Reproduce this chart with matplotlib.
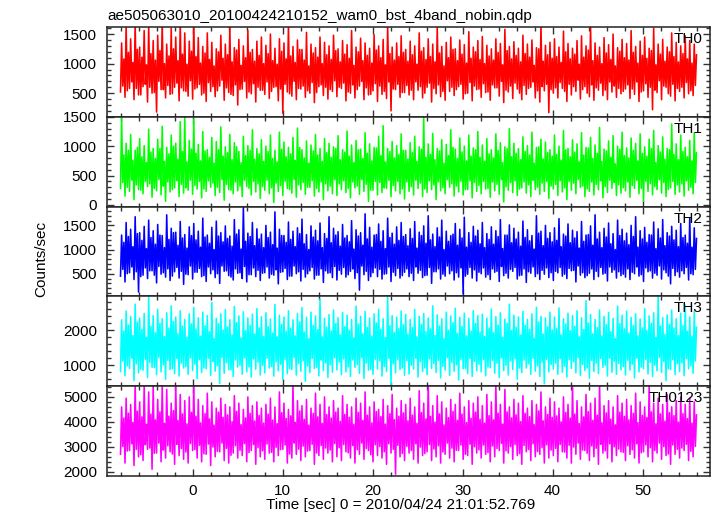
import numpy as np
import matplotlib
matplotlib.use("Agg")
import matplotlib.pyplot as plt
from matplotlib.ticker import MultipleLocator

plt.rcParams['font.family'] = ['Liberation Sans', 'DejaVu Sans']

title = "ae505063010_20100424210152_wam0_bst_4band_nobin.qdp"
xlabel = "Time [sec] 0 = 2010/04/24 21:01:52.769"
ylabel = "Counts/sec"
names = ["TH0", "TH1", "TH2", "TH3", "TH0123"]
colors = ["#ff0000", "#00ff00", "#0000ff", "#00ffff", "#ff00ff"]
t_start, t_end = -8.0, 56.0

# Light curves (counts/sec), four samples per 0.5 s: lo, hi, mid_lo, mid_hi
th0_hi = [1350, 1650, 1420, 1700, 1280, 1560, 1650, 1390, 1480, 1700, 1330, 1600, 1450, 1700, 1520, 1380,
          1700, 1440, 1290, 1520, 1360, 1250, 1480, 1330, 1620, 1270, 1410, 1300, 1560, 1240, 1380, 1450,
          1310, 1500, 1260, 1420, 1350, 1660, 1290, 1400, 1240, 1530, 1330, 1270, 1450, 1360, 1300, 1480,
          1250, 1390, 1320, 1560, 1280, 1430, 1350, 1260, 1490, 1300, 1410, 1640, 1280, 1350, 1470, 1240,
          1380, 1300, 1520, 1270, 1420, 1330, 1610, 1290, 1360, 1450, 1250, 1400, 1320, 1540, 1280, 1390,
          1460, 1310, 1250, 1420, 1340, 1580, 1290, 1370, 1260, 1480, 1330, 1400, 1270, 1650, 1310, 1360,
          1420, 1280, 1550, 1340, 1260, 1390, 1470, 1300, 1630, 1350, 1280, 1440, 1320, 1500, 1270, 1410,
          1340, 1560, 1290, 1380, 1450, 1260, 1600, 1330, 1410, 1280, 1520, 1360, 1300, 1470, 1390, 1330]
th0_lo = [520, 430, 580, 390, 470, 610, 350, 500, 180, 560, 420, 480, 600, 370, 540, 450,
          400, 590, 470, 360, 530, 440, 620, 380, 510, 460, 300, 570, 420, 490, 350, 550,
          480, 410, 600, 370, 160, 520, 450, 390, 570, 430, 500, 340, 610, 460, 400, 530,
          440, 580, 370, 500, 420, 620, 390, 470, 540, 360, 480, 410, 200, 560, 430, 510,
          470, 390, 550, 420, 600, 350, 490, 440, 380, 530, 460, 610, 400, 500, 370, 560,
          430, 510, 380, 590, 450, 340, 520, 410, 570, 390, 480, 600, 420, 350, 540, 170,
          500, 420, 580, 360, 470, 530, 400, 610, 440, 380, 550, 460, 390, 520, 430, 490,
          570, 410, 480, 360, 540, 430, 220, 510, 390, 600, 450, 370, 530, 420, 490, 460]
th0_mid_hi = [1080, 1190, 1020, 1240, 1110, 980, 1170, 1060, 1220, 1000, 1130, 1250, 1050, 1160, 990, 1210,
              1120, 1010, 1180, 1070, 960, 1200, 1090, 1150, 1030, 1230, 970, 1100, 1190, 1040, 1140, 1000,
              1170, 1050, 990, 1210, 1080, 1130, 1020, 1240, 1060, 960, 1180, 1110, 1000, 1150, 1070, 1220,
              1030, 1160, 1090, 970, 1200, 1050, 1140, 1010, 1230, 1100, 980, 1170, 1060, 1120, 1190, 1040,
              1150, 990, 1210, 1070, 1120, 1030, 1180, 960, 1100, 1240, 1050, 1160, 1010, 1090, 1200, 1070,
              1000, 1130, 1060, 1190, 980, 1220, 1080, 1140, 1030, 1170, 1110, 970, 1250, 1040, 1150, 1090,
              1120, 1020, 1200, 1080, 1160, 990, 1110, 1230, 1050, 1140, 1000, 1180, 1070, 960, 1210, 1100,
              1060, 1190, 1010, 1140, 1090, 1220, 980, 1160, 1040, 1200, 1120, 1030, 1170, 1080, 1010, 1150]
th0_mid_lo = [620, 540, 690, 580, 470, 650, 600, 510, 700, 560, 630, 490, 670, 590, 530, 710,
              570, 650, 500, 680, 610, 540, 720, 590, 480, 640, 560, 700, 520, 660, 600, 550,
              690, 530, 610, 570, 650, 490, 700, 580, 620, 540, 680, 510, 640, 600, 560, 710,
              600, 670, 520, 640, 560, 700, 590, 480, 660, 620, 530, 690, 570, 650, 510, 630,
              550, 690, 610, 500, 670, 580, 640, 530, 710, 600, 560, 650, 490, 680, 620, 570,
              660, 520, 640, 590, 700, 550, 620, 670, 500, 630, 580, 690, 540, 610, 650, 560,
              590, 680, 530, 650, 610, 720, 560, 500, 640, 590, 670, 550, 690, 620, 580, 530,
              640, 570, 690, 520, 660, 600, 550, 710, 620, 490, 650, 580, 600, 680, 540, 630]

th1_hi = [1480, 1050, 1200, 930, 1130, 1010, 1290, 960, 1120, 1340, 980, 1190, 1050, 1420, 1500, 1100,
          1460, 1030, 1250, 940, 1150, 1080, 1330, 990, 1200, 1060, 910, 1170, 1010, 1280, 960, 1110,
          1000, 1190, 930, 1240, 1070, 980, 1150, 1310, 940, 1090, 1020, 1200, 960, 1130, 1050, 990,
          1180, 940, 1260, 1020, 1100, 950, 1230, 1040, 980, 1170, 1350, 960, 1080, 1010, 1210, 930,
          1060, 1170, 990, 1490, 1040, 1220, 960, 1110, 1030, 1280, 950, 1140, 1000, 1190, 970, 1250,
          1020, 1130, 940, 1210, 1060, 990, 1300, 1050, 960, 1160, 1010, 1240, 980, 1120, 1070, 940,
          1190, 1000, 1270, 960, 1110, 1040, 1230, 980, 1150, 1020, 1320, 950, 1090, 1180, 1000, 1240,
          970, 1140, 1050, 1210, 990, 1120, 1270, 1010, 1160, 960, 1380, 1040, 1190, 980, 1100, 1230]
th1_lo = [280, 150, 230, 90, 260, 190, 310, 130, 240, 170, 60, 220, 290, 140, 200, 250,
          180, 270, 120, 230, 300, 160, 210, 80, 260, 190, 240, 140, 310, 170, 220, 110,
          250, 190, 40, 230, 160, 280, 200, 130, 260, 180, 300, 150, 220, 90, 240, 190,
          160, 260, 210, 120, 290, 180, 230, 60, 250, 170, 210, 280, 140, 240, 190, 100,
          230, 170, 280, 140, 210, 260, 90, 240, 190, 300, 150, 220, 170, 260, 120, 230,
          190, 270, 130, 240, 180, 50, 250, 210, 160, 290, 200, 140, 260, 180, 230, 110,
          270, 160, 220, 90, 250, 190, 300, 140, 230, 170, 260, 120, 210, 280, 160, 200,
          240, 130, 280, 190, 60, 230, 170, 260, 200, 140, 290, 180, 220, 150, 250, 190]
th1_mid_hi = [850, 930, 760, 980, 820, 720, 900, 790, 960, 740, 870, 1000, 780, 910, 730, 950,
              880, 750, 920, 810, 710, 940, 830, 890, 770, 990, 720, 840, 930, 780, 870, 740,
              910, 790, 730, 950, 820, 870, 760, 980, 800, 710, 920, 850, 740, 890, 810, 960,
              770, 900, 830, 720, 940, 790, 880, 750, 970, 840, 730, 910, 800, 860, 930, 780,
              890, 740, 950, 810, 860, 770, 920, 710, 840, 980, 790, 900, 750, 830, 940, 810,
              740, 870, 800, 930, 720, 960, 820, 880, 770, 910, 850, 710, 990, 780, 890, 830,
              860, 760, 940, 820, 900, 730, 850, 970, 790, 880, 740, 920, 810, 700, 950, 840,
              800, 930, 750, 880, 830, 960, 720, 900, 780, 940, 860, 770, 910, 820, 750, 890]
th1_mid_lo = [380, 300, 420, 340, 250, 400, 360, 280, 430, 320, 390, 260, 410, 350, 290, 420,
              330, 400, 270, 410, 370, 300, 430, 350, 250, 390, 320, 420, 280, 400, 360, 310,
              420, 290, 370, 330, 400, 260, 430, 340, 380, 300, 410, 280, 390, 360, 320, 430,
              360, 410, 280, 390, 320, 430, 350, 250, 400, 380, 290, 420, 330, 400, 270, 390,
              310, 420, 370, 270, 410, 340, 390, 290, 430, 360, 320, 400, 260, 410, 380, 330,
              400, 280, 390, 350, 430, 310, 380, 410, 270, 390, 340, 420, 300, 370, 400, 320,
              350, 410, 290, 400, 370, 430, 320, 270, 390, 350, 410, 310, 420, 380, 340, 290,
              390, 330, 420, 280, 400, 360, 310, 430, 380, 260, 400, 340, 360, 410, 300, 380]

th2_hi = [1300, 1560, 1420, 1680, 1350, 1480, 1610, 1390, 1520, 1290, 1720, 1440, 1360, 1580, 1310, 1470,
          1540, 1380, 1650, 1300, 1460, 1590, 1350, 1490, 1280, 1620, 1410, 1870, 1340, 1560, 1430, 1320,
          1500, 1360, 1780, 1420, 1290, 1570, 1380, 1450, 1630, 1310, 1490, 1400, 1550, 1330, 1680, 1440,
          1370, 1520, 1290, 1600, 1410, 1350, 1740, 1460, 1300, 1530, 1390, 1650, 1340, 1470, 1560, 1310,
          1430, 1580, 1360, 1490, 1700, 1320, 1450, 1610, 1380, 1290, 1540, 1420, 1670, 1350, 1480, 1400,
          1560, 1330, 1470, 1390, 1620, 1300, 1510, 1440, 1360, 1590, 1410, 1290, 1700, 1380, 1500, 1350,
          1450, 1640, 1320, 1530, 1400, 1370, 1580, 1300, 1490, 1720, 1360, 1440, 1550, 1330, 1610, 1420,
          1340, 1500, 1680, 1390, 1460, 1310, 1570, 1430, 1620, 1350, 1480, 1400, 1540, 1300, 1660, 1450]
th2_lo = [450, 330, 520, 380, 120, 470, 400, 560, 310, 490, 430, 360, 540, 410, 280, 480,
          390, 530, 440, 340, 500, 420, 300, 550, 460, 370, 510, 400, 330, 480, 440, 360,
          520, 410, 470, 290, 540, 380, 450, 500, 350, 430, 560, 390, 470, 320, 510, 420,
          370, 490, 430, 550, 400, 160, 480, 360, 520, 440, 390, 500, 340, 460, 410, 530,
          440, 360, 510, 420, 470, 300, 540, 390, 450, 500, 370, 430, 80, 490, 410, 350,
          500, 430, 380, 530, 340, 460, 410, 550, 390, 470, 320, 510, 440, 380, 490, 420,
          360, 520, 450, 400, 560, 330, 470, 420, 510, 380, 440, 490, 350, 530, 410, 460,
          430, 380, 500, 450, 340, 540, 410, 470, 390, 520, 290, 460, 430, 500, 370, 480]
th2_mid_hi = [1150, 1270, 1060, 1330, 1190, 1020, 1250, 1110, 1300, 1040, 1210, 1350, 1090, 1240, 1030, 1290,
              1200, 1050, 1260, 1130, 1000, 1280, 1160, 1230, 1070, 1320, 1010, 1170, 1270, 1080, 1220, 1040,
              1250, 1100, 1030, 1290, 1150, 1210, 1060, 1330, 1120, 1000, 1260, 1180, 1040, 1230, 1140, 1300,
              1070, 1240, 1160, 1010, 1280, 1090, 1220, 1050, 1310, 1170, 1020, 1250, 1110, 1190, 1270, 1080,
              1230, 1030, 1290, 1130, 1200, 1060, 1260, 1000, 1170, 1320, 1090, 1240, 1050, 1150, 1280, 1120,
              1040, 1210, 1110, 1270, 1020, 1300, 1140, 1220, 1070, 1250, 1180, 1010, 1340, 1080, 1230, 1160,
              1190, 1060, 1280, 1140, 1240, 1030, 1170, 1310, 1090, 1220, 1040, 1260, 1120, 1000, 1290, 1180,
              1100, 1270, 1050, 1220, 1150, 1300, 1020, 1240, 1080, 1280, 1200, 1060, 1250, 1130, 1050, 1230]
th2_mid_lo = [590, 500, 640, 540, 440, 620, 560, 470, 650, 520, 600, 450, 630, 550, 490, 660,
              530, 610, 460, 640, 580, 500, 660, 560, 430, 600, 520, 650, 480, 620, 570, 510,
              640, 490, 580, 530, 610, 450, 660, 540, 590, 500, 630, 470, 600, 560, 520, 650,
              570, 630, 480, 600, 520, 660, 550, 440, 620, 590, 490, 640, 530, 610, 460, 600,
              510, 640, 570, 460, 630, 540, 600, 490, 660, 560, 520, 620, 450, 630, 580, 530,
              620, 480, 600, 550, 650, 510, 590, 630, 460, 600, 540, 640, 500, 570, 620, 520,
              550, 630, 490, 610, 570, 660, 520, 460, 600, 550, 630, 510, 640, 580, 540, 490,
              600, 530, 640, 480, 620, 560, 510, 660, 580, 450, 610, 540, 560, 630, 500, 590]

th3_hi = [2300, 2550, 2400, 2750, 2350, 2480, 2950, 2420, 2600, 2330, 2500, 2700, 2380, 2560, 2310, 2470,
          2650, 2360, 2520, 2420, 2800, 2340, 2470, 2590, 2300, 2680, 2410, 2530, 2350, 2460, 2620, 2390,
          2500, 2320, 2740, 2430, 2380, 2560, 2300, 2480, 2650, 2370, 2520, 2410, 2900, 2340, 2450, 2580,
          2360, 2510, 2430, 2310, 2690, 2400, 2540, 2350, 2470, 2600, 2330, 2960, 2420, 2380, 2550, 2450,
          2310, 2590, 2400, 2480, 2350, 2700, 2440, 2330, 2520, 2410, 2630, 2370, 2490, 2340, 2560, 2420,
          2460, 2350, 2610, 2390, 2500, 2320, 2750, 2430, 2380, 2540, 2310, 2470, 2660, 2400, 2350, 2520,
          2380, 2640, 2330, 2490, 2420, 2560, 2360, 2850, 2450, 2310, 2580, 2400, 2510, 2340, 2690, 2430,
          2550, 2370, 2470, 2320, 2620, 2410, 2500, 2960, 2360, 2440, 2580, 2330, 2490, 2720, 2380, 2540]
th3_lo = [820, 700, 910, 560, 780, 860, 650, 940, 730, 810, 600, 880, 760, 690, 920, 740,
          850, 620, 790, 900, 710, 830, 480, 770, 870, 680, 950, 740, 810, 660, 890, 720,
          780, 920, 690, 840, 600, 760, 880, 720, 830, 540, 790, 910, 700, 850, 650, 800,
          870, 730, 810, 680, 940, 770, 620, 860, 740, 900, 690, 820, 450, 780, 880, 710,
          750, 890, 660, 820, 730, 910, 790, 640, 860, 710, 830, 580, 900, 760, 680, 840,
          810, 700, 930, 770, 650, 850, 720, 880, 600, 790, 920, 740, 830, 680, 470, 810,
          890, 740, 800, 660, 910, 780, 710, 850, 630, 820, 760, 940, 690, 800, 740, 870,
          720, 860, 640, 810, 900, 750, 680, 840, 790, 560, 880, 730, 820, 700, 900, 770]
th3_mid_hi = [1980, 2150, 1850, 2230, 2030, 1790, 2110, 1930, 2200, 1820, 2060, 2250, 1900, 2120, 1800, 2180,
              2040, 1830, 2130, 1960, 1760, 2190, 2010, 2090, 1870, 2220, 1780, 1990, 2140, 1890, 2070, 1820,
              2110, 1920, 1810, 2170, 1970, 2060, 1840, 2240, 1950, 1760, 2140, 2020, 1810, 2090, 1980, 2190,
              1870, 2100, 2000, 1780, 2180, 1900, 2080, 1830, 2210, 2030, 1790, 2130, 1940, 2050, 2160, 1890,
              2080, 1810, 2170, 1960, 2040, 1850, 2120, 1760, 2000, 2220, 1910, 2110, 1840, 1980, 2190, 1950,
              1820, 2060, 1930, 2150, 1790, 2200, 1990, 2090, 1870, 2140, 2030, 1770, 2240, 1890, 2100, 2010,
              2050, 1860, 2180, 1990, 2110, 1810, 2020, 2210, 1900, 2080, 1830, 2160, 1960, 1760, 2190, 2040,
              1920, 2140, 1840, 2070, 2000, 2200, 1790, 2120, 1880, 2170, 2060, 1850, 2130, 1970, 1830, 2090]
th3_mid_lo = [1120, 980, 1200, 1040, 880, 1170, 1080, 930, 1220, 1010, 1140, 900, 1190, 1060, 960, 1210,
              1030, 1160, 920, 1200, 1110, 980, 1220, 1070, 870, 1150, 1000, 1210, 950, 1180, 1090, 990,
              1200, 960, 1100, 1030, 1170, 900, 1220, 1050, 1130, 980, 1190, 940, 1150, 1070, 1010, 1210,
              1090, 1180, 950, 1150, 1020, 1220, 1060, 880, 1170, 1120, 960, 1200, 1040, 1160, 920, 1130,
              1000, 1200, 1100, 920, 1180, 1050, 1140, 970, 1220, 1080, 1010, 1170, 900, 1190, 1110, 1030,
              1170, 950, 1140, 1060, 1210, 1000, 1120, 1180, 920, 1150, 1040, 1200, 980, 1090, 1170, 1020,
              1060, 1180, 970, 1160, 1100, 1220, 1020, 920, 1140, 1060, 1190, 1000, 1200, 1110, 1050, 960,
              1140, 1030, 1200, 950, 1170, 1080, 1000, 1220, 1110, 900, 1160, 1040, 1070, 1190, 980, 1120]

th0123_hi = [4600, 4950, 4700, 5500, 4800, 5450, 5200, 5500, 4900, 5500, 5300, 4750, 5500, 5100, 4850, 5000,
             5500, 4900, 4650, 5150, 4800, 4550, 4950, 4700, 4600, 5050, 4750, 4500, 5000, 4650, 4800, 4550,
             4700, 4950, 4600, 5200, 4750, 4500, 5500, 4850, 4650, 4900, 4550, 5150, 4700, 5000, 4600, 4850,
             4550, 5050, 4700, 4600, 4950, 4750, 5200, 4600, 4800, 4500, 4900, 4650, 5100, 4550, 4850, 4700,
             4950, 4600, 5250, 4750, 5500, 4650, 5050, 4800, 4550, 4900, 4700, 5150, 4600, 4850, 4750, 5000,
             4650, 5100, 4800, 5500, 4700, 5300, 4600, 4900, 4750, 5050, 4550, 4850, 4700, 5200, 4600, 4950,
             4800, 4550, 5000, 4700, 5450, 4850, 4600, 5100, 4750, 4950, 5500, 4650, 4850, 4600, 5050, 4750,
             4900, 4650, 5150, 4800, 4600, 5500, 4750, 4950, 4700, 5100, 4600, 4850, 5000, 4700, 4950, 4800]
th0123_lo = [2700, 2350, 2850, 2250, 2600, 2450, 2900, 2100, 2750, 2400, 2550, 2800, 2300, 2650, 2500, 2350,
             2850, 2550, 2400, 2700, 2250, 2600, 2800, 2450, 2350, 2750, 2550, 2650, 2400, 2850, 2300, 2600,
             2500, 2750, 2400, 2650, 2900, 2350, 2550, 2700, 2450, 2600, 2850, 2300, 2650, 2500, 2750, 2400,
             2600, 2450, 2800, 2550, 2350, 2700, 2500, 2850, 2400, 2650, 2550, 2300, 2750, 1900, 2600, 2450,
             2750, 2500, 2350, 2650, 2800, 2450, 2600, 2350, 2700, 2550, 2400, 2850, 2500, 2650, 2300, 2750,
             2550, 2700, 2400, 2600, 2850, 2350, 2750, 2500, 2650, 2300, 2800, 2450, 2600, 2700, 2350, 2550,
             2650, 2400, 2800, 2550, 2350, 2700, 2500, 2850, 2450, 2600, 2300, 2750, 2550, 2400, 2650, 2800,
             2450, 2700, 2550, 2350, 2800, 2600, 2400, 2750, 2500, 2650, 2300, 2700, 2550, 2850, 2450, 2600]
th0123_mid_hi = [4150, 4350, 3980, 4430, 4200, 3900, 4310, 4080, 4400, 3940, 4230, 4450, 4050, 4320, 3920, 4380,
                 4220, 3960, 4330, 4120, 3870, 4390, 4180, 4280, 4010, 4420, 3890, 4160, 4340, 4030, 4260, 3950,
                 4310, 4070, 3930, 4370, 4140, 4240, 3980, 4440, 4100, 3870, 4340, 4200, 3940, 4290, 4150, 4390,
                 4020, 4300, 4180, 3900, 4380, 4060, 4270, 3960, 4410, 4210, 3910, 4330, 4090, 4230, 4360, 4040,
                 4270, 3940, 4370, 4120, 4220, 3990, 4320, 3880, 4170, 4420, 4060, 4310, 3970, 4140, 4390, 4100,
                 3950, 4250, 4080, 4350, 3910, 4400, 4160, 4280, 4010, 4340, 4210, 3890, 4440, 4040, 4300, 4180,
                 4240, 4000, 4380, 4150, 4310, 3930, 4200, 4410, 4060, 4270, 3960, 4360, 4110, 3880, 4390, 4220,
                 4080, 4340, 3970, 4260, 4170, 4400, 3920, 4320, 4030, 4370, 4250, 3990, 4330, 4130, 3950, 4280]
th0123_mid_lo = [3020, 2830, 3120, 2900, 2680, 3080, 2950, 2740, 3150, 2870, 3040, 2710, 3100, 2930, 2790, 3130,
                 2890, 3060, 2720, 3110, 2990, 2820, 3150, 2940, 2660, 3050, 2860, 3130, 2770, 3090, 2970, 2840,
                 3110, 2780, 2980, 2890, 3070, 2710, 3150, 2910, 3030, 2830, 3100, 2750, 3050, 2950, 2870, 3130,
                 2960, 3090, 2760, 3050, 2880, 3150, 2930, 2680, 3080, 3010, 2800, 3120, 2900, 3060, 2730, 3020,
                 2850, 3120, 2990, 2730, 3090, 2910, 3040, 2790, 3150, 2950, 2860, 3070, 2700, 3100, 3000, 2880,
                 3070, 2770, 3030, 2930, 3140, 2840, 3010, 3090, 2730, 3050, 2890, 3120, 2810, 2970, 3080, 2870,
                 2940, 3090, 2790, 3060, 2990, 3150, 2870, 2740, 3040, 2940, 3100, 2840, 3120, 3000, 2910, 2780,
                 3040, 2880, 3120, 2760, 3080, 2960, 2850, 3150, 3010, 2710, 3070, 2900, 2950, 3100, 2820, 3020]

series = [(th0_lo, th0_hi, th0_mid_lo, th0_mid_hi),
          (th1_lo, th1_hi, th1_mid_lo, th1_mid_hi),
          (th2_lo, th2_hi, th2_mid_lo, th2_mid_hi),
          (th3_lo, th3_hi, th3_mid_lo, th3_mid_hi),
          (th0123_lo, th0123_hi, th0123_mid_lo, th0123_mid_hi)]
ylims = [(100, 1620), (-30, 1502), (30, 1890), (400, 2970), (1830, 5430)]
majors = [500, 500, 500, 1000, 1000]
minors = [100, 100, 100, 200, 200]

fig, axes = plt.subplots(5, 1, sharex=True, figsize=(7.17, 5.16), dpi=100)
fig.subplots_adjust(left=107/717, right=710/717, top=1-27/516, bottom=1-476/516, hspace=0)

for ax, parts, c, name, yl, mj, mn in zip(axes, series, colors, names, ylims, majors, minors):
    y = np.column_stack(parts).ravel()
    t = np.linspace(t_start, t_end, len(y))
    ax.plot(t, y, color=c, lw=1.15)
    ax.set_ylim(*yl)
    ax.set_xlim(-9.5, 57.5)
    ax.yaxis.set_major_locator(MultipleLocator(mj))
    ax.yaxis.set_minor_locator(MultipleLocator(mn))
    ax.xaxis.set_major_locator(MultipleLocator(10))
    ax.xaxis.set_minor_locator(MultipleLocator(2))
    ax.tick_params(which='both', direction='in', top=True, right=True, color='#333333', width=1.0)
    ax.tick_params(which='major', length=5)
    ax.tick_params(which='minor', length=3)
    ax.tick_params(axis='y', labelsize=11, pad=7)
    ax.tick_params(axis='x', labelsize=11, pad=6)
    for s in ax.spines.values():
        s.set_linewidth(1.1)
        s.set_color('#222222')
    ax.text(0.988, 1 - 16/90, name, transform=ax.transAxes, ha='right', va='baseline', fontsize=11)

fig.text(107/717, 1 - 20/516, title, ha='left', va='baseline', fontsize=11)
fig.text(41/717, 1 - 259/516, ylabel, rotation=90, ha='center', va='center', fontsize=11)
fig.text(401/717, 1 - 505/516, xlabel, ha='center', va='center', fontsize=11)

fig.savefig("out.png", dpi=100)
